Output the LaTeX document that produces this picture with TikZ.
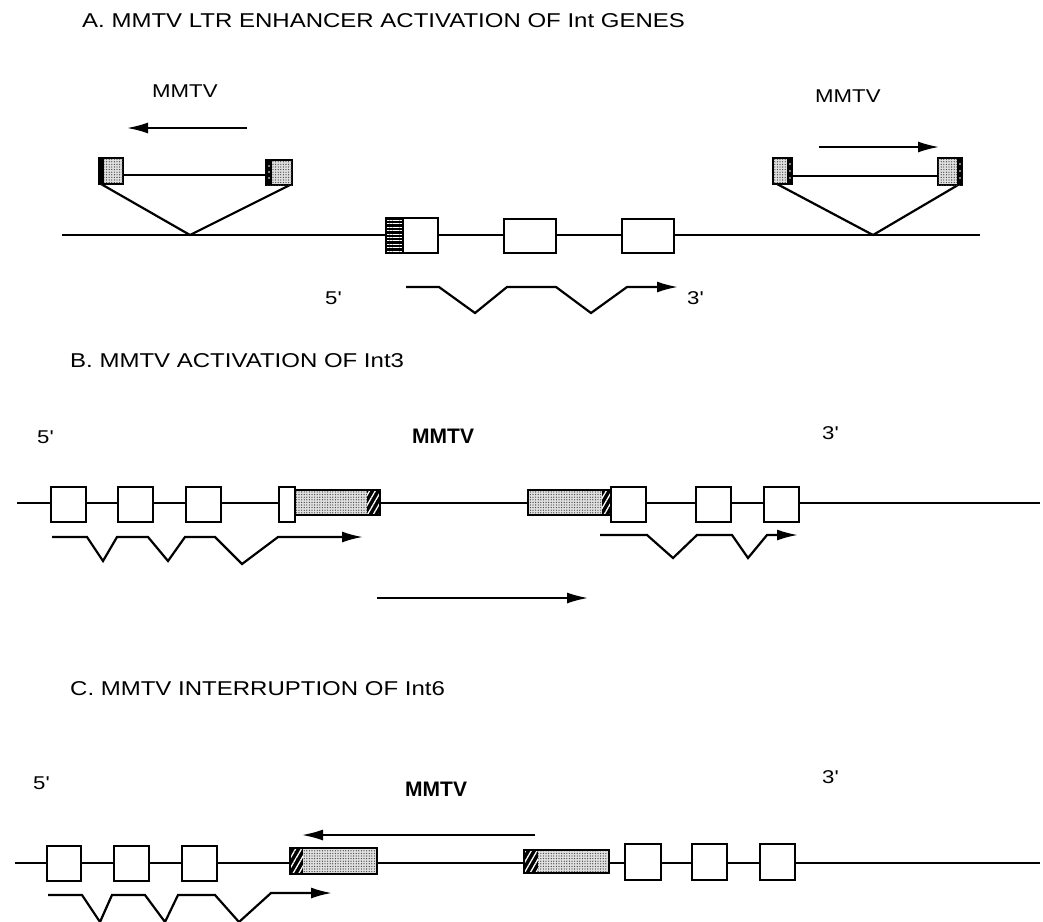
\documentclass[tikz,border=0pt]{standalone}
\usepackage{fontspec}
\setmainfont{Liberation Sans}[FakeStretch=1.2]
\newfontfamily\narrowsans{Liberation Sans}
\usetikzlibrary{arrows.meta,patterns.meta}

\tikzset{
  dna/.style={line width=2pt},
  dnab/.style={line width=2.8pt},
  exon/.style={draw, fill=white, line width=2pt},
  ltrbox/.style={draw, line width=2pt, fill=black!12,
    postaction={pattern={Dots[distance=2.6pt, radius=0.65pt]}, pattern color=black!75}},
  ltrend/.style={fill=black,
    postaction={pattern={Lines[angle=60, distance=5pt, line width=1.3pt]}, pattern color=white}},
  splice/.style={line width=2.2pt, line join=miter},
  title/.style={anchor=base west, inner sep=0pt, font=\fontsize{20}{23}\selectfont},
  lab/.style={anchor=base west, inner sep=0pt, font=\fontsize{18.5}{21}\selectfont},
  virus/.style={anchor=base west, inner sep=0pt, font=\narrowsans\fontsize{21}{24}\selectfont\bfseries}
}

\begin{document}
\begin{tikzpicture}[x=1pt, y=-1pt, >={Latex[length=21pt, width=11pt]}]
    \clip (0,0) rectangle (1043,921);

    % A. Enhancer activation
    \node[title] (tA) at (82,27) {A. MMTV LTR ENHANCER ACTIVATION OF Int GENES};
    \node[lab] (mmtvL) at (152,97) {MMTV};
    \node[lab] (mmtvR) at (815,102) {MMTV};

    \draw[dna] (62,235) -- (980,235);

    % provirus on the left (reverse)
    \draw[->, line width=1.8pt] (247,128) -- (127,128);
    \draw[line width=1.6pt] (123,175) -- (266,175);
    \draw[splice] (101,184) -- (190,235) -- (290,185);
    \draw[ltrbox] (99,158) rectangle (123,184);
    \fill (99,158) rectangle (104,184);
    \draw[ltrbox] (266,160) rectangle (292,185);
    \fill (266,160) rectangle (272,185);
    \foreach \y in {166,172,178} \fill[white] (269,\y) circle (0.8pt);

    % provirus on the right (forward)
    \draw[->, line width=1.8pt] (819,147) -- (939,147);
    \draw[line width=1.6pt] (792,176) -- (938,176);
    \draw[splice] (777,184) -- (873,235) -- (958,185);
    \draw[ltrbox] (773,158) rectangle (792,184);
    \fill (787,158) rectangle (792,184);
    \foreach \y in {164,171,178} \fill[white] (790,\y) circle (0.8pt);
    \draw[ltrbox] (938,158) rectangle (962,185);
    \fill (957,158) rectangle (962,185);
    \foreach \y in {164,171,178} \fill[white] (960,\y) circle (0.8pt);

    % Int gene
    \draw[exon] (386,218) rectangle (438,253);
    \fill[black, postaction={pattern={Lines[angle=0, distance=3.4pt, line width=1pt]}, pattern color=white}]
        (387,219) rectangle (403,252);
    \draw[line width=2pt] (386,218) rectangle (438,253) (403,218) -- (403,253);
    \draw[exon] (504,219) rectangle (556,253);
    \draw[exon] (622,219) rectangle (674,253);
    \draw[splice, ->] (406,287) -- (439,287) -- (475,313) -- (507,287) -- (556,287)
        -- (591,313) -- (627,287) -- (678,287);
    \node[lab] (fiveA) at (325,304) {5\textquotesingle};
    \node[lab] (threeA) at (687,304) {3\textquotesingle};

    % B. Int3
    \node[title] (tB) at (70,367) {B. MMTV ACTIVATION OF Int3};
    \node[lab] (fiveB) at (37,443) {5\textquotesingle};
    \node[virus] (mmtvB) at (412,443) {MMTV};
    \node[lab] (threeB) at (822,439) {3\textquotesingle};

    \draw[dnab] (17,503) -- (1040,503);
    \draw[exon] (51,487) rectangle (86,522);
    \draw[exon] (118,487) rectangle (153,522);
    \draw[exon] (186,487) rectangle (221,522);
    \draw[exon] (279,487) rectangle (295,522);
    \draw[ltrbox] (295,490) rectangle (380,515);
    \fill[ltrend] (367,490) rectangle (380,515);
    \draw[line width=2pt] (295,490) rectangle (380,515);
    \draw[ltrbox] (528,490) rectangle (613,515);
    \fill[ltrend] (602,490) rectangle (613,515);
    \draw[line width=2pt] (528,490) rectangle (613,515);
    \draw[exon] (611,487) rectangle (646,522);
    \draw[exon] (696,487) rectangle (731,522);
    \draw[exon] (764,487) rectangle (799,522);

    \draw[splice, ->] (52,537) -- (87,537) -- (103,561) -- (117,537) -- (148,537) -- (168,561)
        -- (185,537) -- (215,537) -- (242,564) -- (278,537) -- (363,537);
    \draw[splice, ->] (600,535) -- (647,535) -- (673,558) -- (697,535) -- (732,535)
        -- (748,558) -- (767,535) -- (798,535);
    \draw[->, line width=1.8pt] (377,598) -- (588,598);

    % C. Int6
    \node[title] (tC) at (70,695) {C. MMTV INTERRUPTION OF Int6};
    \node[lab] (fiveC) at (33,789) {5\textquotesingle};
    \node[virus] (mmtvC) at (405,796) {MMTV};
    \node[lab] (threeC) at (822,783) {3\textquotesingle};

    \draw[dnab] (15,863) -- (1040,863);
    \draw[exon] (47,846) rectangle (81,881);
    \draw[exon] (114,846) rectangle (149,881);
    \draw[exon] (182,846) rectangle (217,881);
    \draw[ltrbox] (290,848) rectangle (377,874);
    \fill[ltrend] (290,848) rectangle (303,874);
    \draw[line width=2pt] (290,848) rectangle (377,874);
    \draw[ltrbox] (524,850) rectangle (609,873);
    \fill[ltrend] (524,850) rectangle (538,873);
    \draw[line width=2pt] (524,850) rectangle (609,873);
    \draw[exon] (625,844) rectangle (661,880);
    \draw[exon] (692,844) rectangle (727,880);
    \draw[exon] (760,844) rectangle (795,880);

    \draw[->, line width=1.8pt] (535,835) -- (302,835);
    \draw[splice, ->] (48,895) -- (82,895) -- (100,922) -- (112,895) -- (145,895) -- (165,922)
        -- (178,895) -- (215,895) -- (239,922) -- (271,893) -- (332,893);
\end{tikzpicture}
\end{document}
